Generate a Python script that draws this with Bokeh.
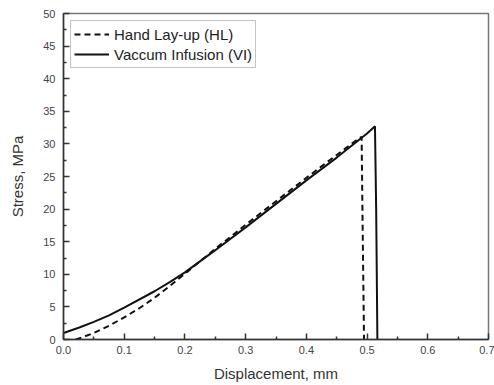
from bokeh.plotting import figure
from bokeh.models import Range1d, FixedTicker, Legend, LegendItem, CustomJSTickFormatter
from bokeh.embed import file_html
from bokeh.resources import INLINE

# Data
hl_x = [0.020, 0.030, 0.050, 0.075, 0.100, 0.125, 0.150, 0.175, 0.200, 0.250, 0.300, 0.350, 0.400, 0.450, 0.480, 0.491, 0.493, 0.495]
hl_y = [0.0, 0.3, 1.0, 2.1, 3.4, 4.8, 6.4, 8.2, 10.1, 13.9, 17.6, 21.2, 24.8, 28.3, 30.4, 31.1, 15.0, 0.0]

vi_x = [0.000, 0.025, 0.050, 0.075, 0.100, 0.150, 0.175, 0.200, 0.250, 0.300, 0.350, 0.400, 0.450, 0.500, 0.513, 0.515, 0.517]
vi_y = [1.0, 1.8, 2.7, 3.7, 4.9, 7.4, 8.8, 10.3, 13.7, 17.2, 20.8, 24.4, 27.9, 31.6, 32.7, 20.0, 0.0]

x_ticks = [0.0, 0.1, 0.2, 0.3, 0.4, 0.5, 0.6, 0.7]
y_ticks = [0, 5, 10, 15, 20, 25, 30, 35, 40, 45, 50]
x_minor = [0.05, 0.15, 0.25, 0.35, 0.45, 0.55, 0.65]
y_minor = [2.5, 7.5, 12.5, 17.5, 22.5, 27.5, 32.5, 37.5, 42.5, 47.5]

p = figure(width=494, height=385, output_backend="svg", toolbar_location=None,
           x_range=Range1d(0, 0.7), y_range=Range1d(0, 50),
           min_border_left=63, min_border_right=6, min_border_top=13, min_border_bottom=46)

p.grid.visible = False
p.outline_line_color = "#777777"
p.outline_line_width = 1.5
p.background_fill_color = "white"
p.border_fill_color = "white"

r_hl = p.line(hl_x, hl_y, line_color="#111111", line_width=2, line_dash="6 4")
r_vi = p.line(vi_x, vi_y, line_color="#111111", line_width=2)

for ax in (p.xaxis[0], p.yaxis[0]):
    ax.axis_line_color = "#333333"
    ax.axis_line_width = 1.5
    ax.major_tick_in = 6
    ax.major_tick_out = 0
    ax.minor_tick_in = 3
    ax.minor_tick_out = 0
    ax.major_tick_line_color = "#333333"
    ax.minor_tick_line_color = "#333333"
    ax.major_tick_line_width = 1.5
    ax.minor_tick_line_width = 1.5
    ax.major_label_text_font = "Liberation Sans"
    ax.major_label_text_font_size = "11px"
    ax.major_label_text_color = "#444444"
    ax.axis_label_text_font = "Liberation Sans"
    ax.axis_label_text_font_size = "15px"
    ax.axis_label_text_font_style = "normal"
    ax.axis_label_text_color = "#333333"

p.xaxis[0].ticker = FixedTicker(ticks=x_ticks, minor_ticks=x_minor)
p.yaxis[0].ticker = FixedTicker(ticks=y_ticks, minor_ticks=y_minor)
p.xaxis[0].formatter = CustomJSTickFormatter(code="return tick.toFixed(1);")
p.xaxis[0].axis_label = "Displacement, mm"
p.yaxis[0].axis_label = "Stress, MPa"
p.xaxis[0].major_label_standoff = 6
p.yaxis[0].major_label_standoff = 8
p.xaxis[0].axis_label_standoff = 8
p.yaxis[0].axis_label_standoff = 14

legend = Legend(items=[LegendItem(label="Hand Lay-up (HL)", renderers=[r_hl]),
                       LegendItem(label="Vaccum Infusion (VI)", renderers=[r_vi])],
                location="top_left")
legend.margin = 7
legend.padding = 3
legend.spacing = 0
legend.glyph_width = 35
legend.glyph_height = 20
legend.label_standoff = 5
legend.label_text_font = "Liberation Sans"
legend.label_text_font_size = "15px"
legend.label_text_color = "#222222"
legend.border_line_color = "#888888"
legend.border_line_width = 1.2
legend.background_fill_alpha = 1.0
p.add_layout(legend)

open("out.html", "w").write(file_html(p, INLINE))
